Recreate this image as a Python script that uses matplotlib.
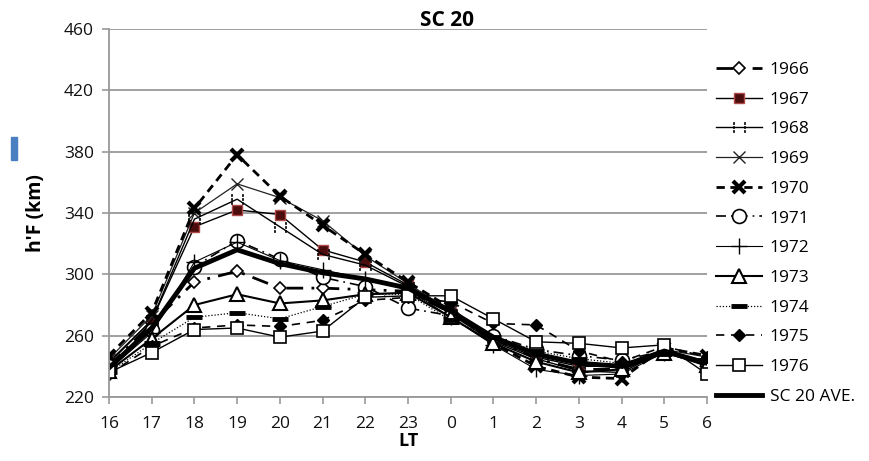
import matplotlib
matplotlib.use("Agg")
import matplotlib.pyplot as plt
from matplotlib.patches import Rectangle

hours = ["16", "17", "18", "19", "20", "21", "22", "23", "0", "1", "2", "3", "4", "5", "6"]

y1966 = [240, 268, 295, 302, 291, 291, 290, 289, 275, 258, 245, 238, 238, 250, 241]
y1967 = [243, 270, 331, 342, 339, 316, 308, 293, 275, 257, 246, 240, 240, 248, 244]
y1968 = [242, 270, 336, 349, 331, 313, 306, 292, 274, 256, 245, 237, 236, 250, 243]
y1969 = [245, 273, 340, 359, 350, 335, 312, 294, 276, 258, 248, 242, 240, 251, 246]
y1970 = [247, 275, 343, 378, 351, 332, 313, 295, 278, 255, 240, 233, 232, 252, 247]
y1971 = [240, 264, 305, 322, 310, 298, 292, 278, 273, 260, 251, 247, 244, 250, 242]
y1972 = [238, 262, 308, 321, 309, 303, 297, 290, 272, 254, 238, 234, 235, 249, 240]
y1973 = [237, 258, 280, 287, 281, 283, 287, 288, 272, 255, 243, 236, 238, 249, 241]
y1974 = [236, 255, 272, 275, 271, 279, 287, 287, 270, 259, 250, 245, 242, 248, 244]
y1975 = [235, 253, 265, 267, 266, 270, 283, 285, 282, 268, 267, 250, 243, 253, 246]
y1976 = [236, 249, 264, 265, 259, 263, 285, 286, 286, 271, 256, 255, 252, 254, 235]
yave = [239, 265, 304, 316, 307, 301, 297, 291, 276, 259, 248, 242, 240, 250, 242]

yticks = [220, 260, 300, 340, 380, 420, 460]

plt.rcParams['font.family'] = ['Open Sans', 'DejaVu Sans']

fig = plt.figure(figsize=(8.69, 4.61), dpi=100)
ax = fig.add_axes([109/869, 1 - 397/461, (707-109)/869, (397-29)/461])
x = list(range(len(hours)))

k = 'black'
series = [
    (y1966, "1966", dict(color=k, lw=2.0, ls=(0, (6, 3, 1, 3)), marker='D', ms=6, mfc='white', mec=k, mew=1.2)),
    (y1967, "1967", dict(color=k, lw=1.0, ls='-', marker='s', ms=7, mfc='#4a0c0c', mec='#b04848', mew=1.0)),
    (y1968, "1968", dict(color=k, lw=1.0, ls='-', marker='$\\vdots\\vdots$', ms=9, mfc=k, mec=k, mew=0.5)),
    (y1969, "1969", dict(color='#222222', lw=0.9, ls='-', marker='x', ms=9, mec='#222222', mew=1.0)),
    (y1970, "1970", dict(color=k, lw=2.0, ls=(0, (3, 2)), marker='x', ms=9, mec=k, mew=3.0)),
    (y1971, "1971", dict(color=k, lw=1.2, ls=(0, (6, 3, 1, 3)), marker='o', ms=10, mfc='white', mec=k, mew=1.2)),
    (y1972, "1972", dict(color=k, lw=0.8, ls='-', marker='+', ms=12, mec=k, mew=1.0)),
    (y1973, "1973", dict(color=k, lw=1.5, ls='-', marker='^', ms=10, mfc='white', mec=k, mew=1.5)),
    (y1974, "1974", dict(color=k, lw=0.9, ls=(0, (1, 1.5)), marker='_', ms=12, mec=k, mew=3.5)),
    (y1975, "1975", dict(color=k, lw=1.2, ls=(0, (5, 4)), marker='D', ms=6, mfc=k, mec=k)),
    (y1976, "1976", dict(color=k, lw=1.0, ls='-', marker='s', ms=9, mfc='white', mec=k, mew=1.2)),
    (yave, "SC 20 AVE.", dict(color=k, lw=3.5, ls='-')),
]

for vals, lab, st in series:
    ax.plot(x, vals, label=lab, **st)

ax.set_xlim(0, len(hours) - 1)
ax.set_ylim(220, 460)
ax.set_yticks(yticks)
ax.set_xticks(x)
ax.set_xticklabels(hours)
ax.yaxis.grid(True, color='#999999', lw=1.3)
ax.set_axisbelow(True)
for s in ['top', 'right']:
    ax.spines[s].set_visible(False)
for s in ['left', 'bottom']:
    ax.spines[s].set_color('#999999')
    ax.spines[s].set_linewidth(1.3)
ax.tick_params(axis='both', colors='#999999', length=5, width=1.2, labelsize=12.5, labelcolor='#111111')
ax.tick_params(axis='y', pad=6)
ax.tick_params(axis='x', pad=9)
fig.text(447/869, 1 - 20/461, "SC 20", fontsize=15, fontweight='bold', ha='center', va='center')
ax.set_xlabel("LT", fontsize=13, fontweight='bold', labelpad=0)
ax.set_ylabel("h'F (km)", fontsize=14, fontweight='bold', labelpad=13)

leg = fig.legend(loc='upper left', bbox_to_anchor=(709/869, 1 - 55/461), frameon=False,
                 fontsize=12.5, handlelength=2.65, handletextpad=0.45, labelspacing=0.78,
                 borderaxespad=0)

fig.patches.append(Rectangle((11/869, 1 - 160/461), 6/869, 23/461, transform=fig.transFigure,
                             color='#4a7fc1', zorder=0))

fig.savefig("out.png", dpi=100)
